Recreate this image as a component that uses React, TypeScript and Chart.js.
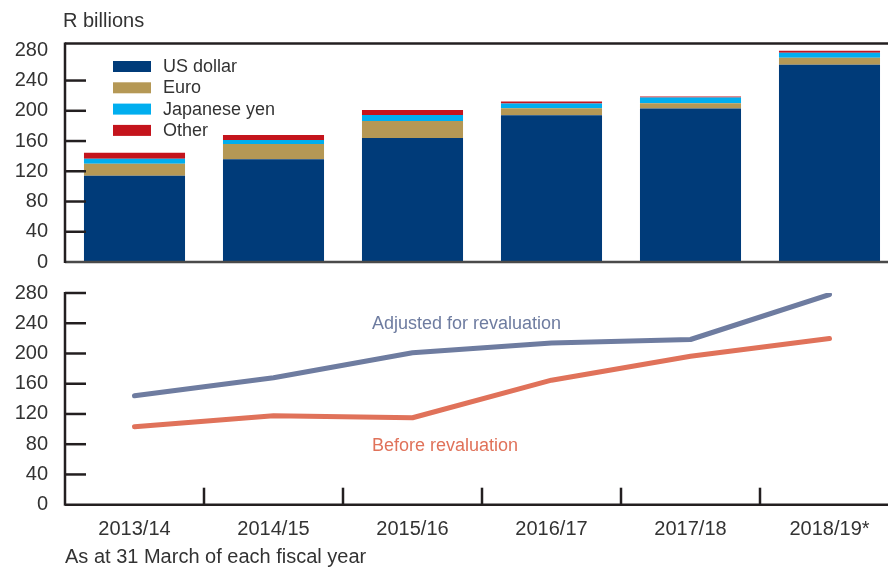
import React, { useEffect, useRef } from 'react';
import { Chart, registerables } from 'chart.js';

Chart.register(...registerables);

// ---- Data ----
const categories = ['2013/14', '2014/15', '2015/16', '2016/17', '2017/18', '2018/19*'];
const usDollar = [114, 136, 164, 194, 203, 261];
const euro = [16, 20, 22.5, 9.2, 7, 9.3];
const japaneseYen = [6.6, 5.3, 8, 6.6, 7.5, 6.6];
const other = [8, 6.6, 6.6, 2.6, 1.3, 2.6];
const adjustedForRevaluation = [144, 168, 201, 214, 218.5, 278];
const beforeRevaluation = [103, 117.6, 115, 164.7, 196.4, 219.8];
const yTickValues = [0, 40, 80, 120, 160, 200, 240, 280];

const FONT = '"Liberation Sans", Arial, Helvetica, sans-serif';
const TEXT = '#333333';
const AXIS = '#231f20';

const C_US = '#003b79';
const C_EURO = '#b59855';
const C_YEN = '#00aeef';
const C_OTHER = '#c4141c';
const C_ADJ = '#6e7ca0';
const C_BEFORE = '#e0725a';

function drawLine(ctx: CanvasRenderingContext2D, x1: number, y1: number, x2: number, y2: number, color: string, w: number) {
  ctx.save();
  ctx.strokeStyle = color;
  ctx.lineWidth = w;
  ctx.lineCap = 'butt';
  ctx.beginPath();
  ctx.moveTo(x1, y1);
  ctx.lineTo(x2, y2);
  ctx.stroke();
  ctx.restore();
}

const topDecor = {
  id: 'topDecor',
  afterDatasetsDraw(chart: any) {
    const { ctx, chartArea, scales } = chart;
    const y = scales.y;
    const left = chartArea.left;
    const y0 = y.getPixelForValue(0);
    // frame
    drawLine(ctx, left, chartArea.top, 888, chartArea.top, AXIS, 2.5);
    drawLine(ctx, left, y0, 888, y0, '#4a4a4a', 2.5);
    drawLine(ctx, left, chartArea.top - 1, left, y0 + 1, AXIS, 2.5);
    yTickValues.forEach((v) => {
      if (v === 0 || v === 280) return;
      const py = y.getPixelForValue(v);
      drawLine(ctx, left, py, left + 21, py, AXIS, 2.5);
    });
    // unit label
    ctx.save();
    ctx.font = `20px ${FONT}`;
    ctx.fillStyle = TEXT;
    ctx.textAlign = 'left';
    ctx.textBaseline = 'middle';
    ctx.fillText('R billions', 63, 21);
    // legend
    ctx.font = `18px ${FONT}`;
    chart.data.datasets.forEach((ds: any, i: number) => {
      const top = 61 + i * 21.3;
      ctx.fillStyle = ds.backgroundColor;
      ctx.fillRect(113, top, 38, 11);
      ctx.fillStyle = TEXT;
      ctx.fillText(ds.label, 163, top + 6);
    });
    ctx.restore();
  },
};

const bottomDecor = {
  id: 'bottomDecor',
  afterDatasetsDraw(chart: any) {
    const { ctx, chartArea, scales } = chart;
    const y = scales.y;
    const x = scales.x;
    const left = chartArea.left;
    const y0 = y.getPixelForValue(0);
    drawLine(ctx, left, y.getPixelForValue(280) - 1, left, y0 + 1, AXIS, 2.5);
    drawLine(ctx, left, y0, 888, y0, AXIS, 2.5);
    yTickValues.forEach((v) => {
      if (v === 0) return;
      const py = y.getPixelForValue(v);
      drawLine(ctx, left, py, left + 21, py, AXIS, 2.5);
    });
    for (let i = 1; i < categories.length; i++) {
      const px = (x.getPixelForValue(i - 1) + x.getPixelForValue(i)) / 2;
      drawLine(ctx, px, y0 - 17, px, y0, AXIS, 2.5);
    }
    ctx.save();
    ctx.textAlign = 'left';
    ctx.textBaseline = 'middle';
    ctx.font = `18px ${FONT}`;
    ctx.fillStyle = C_ADJ;
    ctx.fillText('Adjusted for revaluation', left + 307, y.getPixelForValue(240) + 0.5);
    ctx.fillStyle = C_BEFORE;
    ctx.fillText('Before revaluation', left + 307, y.getPixelForValue(77));
    ctx.font = `20px ${FONT}`;
    ctx.fillStyle = TEXT;
    ctx.fillText('As at 31 March of each fiscal year', left, y0 + 52.5);
    ctx.restore();
  },
};

function TopChart() {
  const ref = useRef<HTMLCanvasElement>(null);
  useEffect(() => {
    const chart = new Chart(ref.current!, {
      type: 'bar',
      data: {
        labels: categories,
        datasets: [
          { label: 'US dollar', data: usDollar, backgroundColor: C_US },
          { label: 'Euro', data: euro, backgroundColor: C_EURO },
          { label: 'Japanese yen', data: japaneseYen, backgroundColor: C_YEN },
          { label: 'Other', data: other, backgroundColor: C_OTHER },
        ] as any,
      },
      options: {
        responsive: false,
        animation: false,
        layout: { padding: { top: 43.5, bottom: 0, left: 0, right: 1 } },
        datasets: { bar: { categoryPercentage: 1, barPercentage: 0.727, borderWidth: 0 } } as any,
        plugins: { legend: { display: false }, tooltip: { enabled: false } },
        scales: {
          x: { display: false, stacked: true, offset: true, grid: { display: false } },
          y: {
            stacked: true,
            min: 0,
            max: 289,
            grid: { display: false, drawTicks: false },
            border: { display: false },
            afterFit: (s: any) => { s.width = 65; },
            ticks: {
              stepSize: 40,
              includeBounds: false,
              padding: 17,
              color: TEXT,
              font: { family: FONT, size: 20 },
            },
          },
        },
      } as any,
      plugins: [topDecor],
    });
    return () => chart.destroy();
  }, []);
  return <canvas ref={ref} width={900} height={291} style={{ width: 900, height: 291, display: 'block' }} />;
}

function BottomChart() {
  const ref = useRef<HTMLCanvasElement>(null);
  useEffect(() => {
    const chart = new Chart(ref.current!, {
      type: 'line',
      data: {
        labels: categories,
        datasets: [
          { label: 'Adjusted for revaluation', data: adjustedForRevaluation, borderColor: C_ADJ, backgroundColor: C_ADJ },
          { label: 'Before revaluation', data: beforeRevaluation, borderColor: C_BEFORE, backgroundColor: C_BEFORE },
        ] as any,
      },
      options: {
        responsive: false,
        animation: false,
        layout: { padding: { top: 0, bottom: 0, left: 0, right: 1 } },
        datasets: { line: { borderWidth: 5, pointRadius: 0, tension: 0, borderCapStyle: 'round', borderJoinStyle: 'round' } } as any,
        plugins: { legend: { display: false }, tooltip: { enabled: false } },
        scales: {
          x: {
            offset: true,
            grid: { display: false, drawTicks: false },
            border: { display: false },
            afterFit: (s: any) => { s.height = 63.3; },
            ticks: {
              padding: 13,
              maxRotation: 0,
              autoSkip: false,
              color: TEXT,
              font: { family: FONT, size: 20 },
            },
          },
          y: {
            min: 0,
            max: 280,
            grid: { display: false, drawTicks: false },
            border: { display: false },
            afterFit: (s: any) => { s.width = 65; },
            ticks: {
              stepSize: 40,
              padding: 17,
              color: TEXT,
              font: { family: FONT, size: 20 },
            },
          },
        },
      } as any,
      plugins: [bottomDecor],
    });
    return () => chart.destroy();
  }, []);
  return <canvas ref={ref} width={900} height={304} style={{ width: 900, height: 304, display: 'block' }} />;
}

export default function App() {
  return (
    <div style={{ position: 'absolute', left: 0, top: 0, width: 888, height: 568, overflow: 'hidden', background: '#ffffff' }}>
      <div style={{ position: 'absolute', left: 0, top: 0, width: 900, height: 291 }}>
        <TopChart />
      </div>
      <div style={{ position: 'absolute', left: 0, top: 264, width: 900, height: 304 }}>
        <BottomChart />
      </div>
    </div>
  );
}
